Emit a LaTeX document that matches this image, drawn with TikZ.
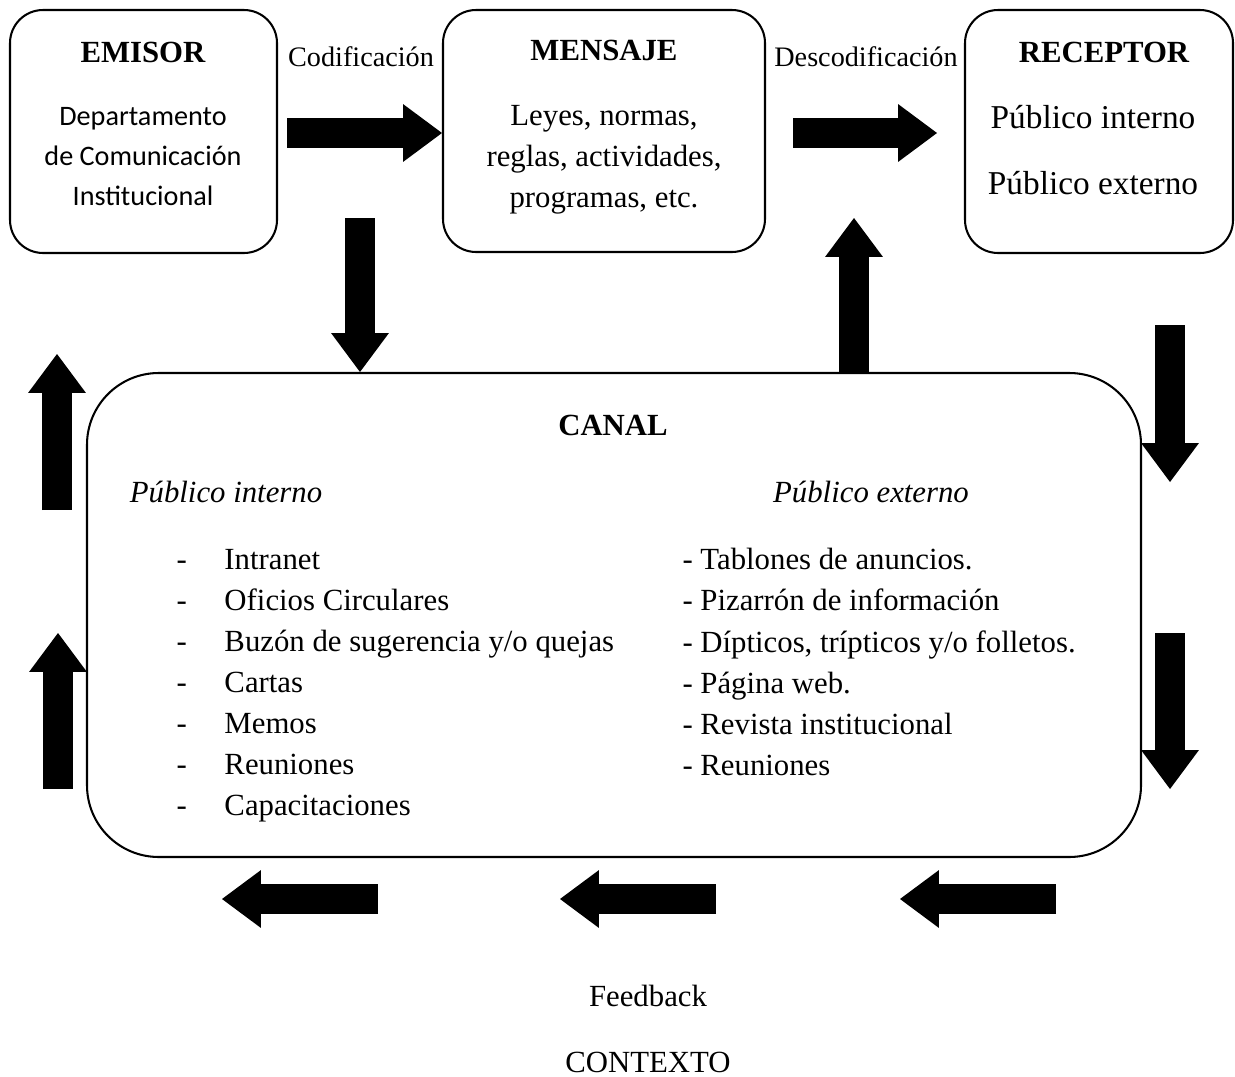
\documentclass[tikz,border=0pt]{standalone}
\usepackage{fontspec}
\setmainfont{Liberation Serif}
\newfontfamily\calibri{Carlito}
\usetikzlibrary{arrows.meta,positioning}
\newlength\pxu
\setlength\pxu{0.39pt}

\begin{document}
\begin{tikzpicture}[x=\pxu,y=-\pxu,font=\fontsize{12}{16}\selectfont,
 box/.style={draw,line width=0.8pt,rounded corners=12.9pt,inner sep=0pt},
 bigbox/.style={draw,line width=0.8pt,rounded corners=28pt,inner sep=0pt},
 txt/.style={inner sep=0pt},
 ttl/.style={inner sep=0pt,font=\fontsize{12}{16}\selectfont\bfseries},
 lbl/.style={inner sep=0pt,font=\fontsize{11}{14}\selectfont},
 lst/.style={inner sep=0pt,align=left,anchor=west},
 blk/.style={line width=11.7pt,-{Triangle[width=22.6pt,length=15.2pt,line width=0pt]}}]
\useasboundingbox (0,0) rectangle (1235,1077);

\node[box,minimum width=267\pxu,minimum height=243\pxu] (emisor) at (143.5,131.5) {};
\node[box,minimum width=322\pxu,minimum height=242\pxu] (mensaje) at (604,131) {};
\node[box,minimum width=268\pxu,minimum height=243\pxu] (receptor) at (1099,131.5) {};
\node[bigbox,minimum width=1054\pxu,minimum height=484\pxu] (canal) at (614,615) {};

\node[ttl] (emisorT) at (143,52) {EMISOR};
\node[txt,align=center,font=\calibri\fontsize{11}{15.6}\selectfont] (emisorB) at (143,157)
 {Departamento\\de Comunicación\\Institucional};
\node[ttl] (mensajeT) at (604,50) {MENSAJE};
\node[txt,align=center] (mensajeB) at (604,160) {Leyes, normas,\\reglas, actividades,\\programas, etc.};
\node[ttl] (receptorT) at (1104,52) {RECEPTOR};
\node[txt,font=\fontsize{13}{16}\selectfont] (recInt) at (1093,117) {Público interno};
\node[txt,font=\fontsize{13}{16}\selectfont] (recExt) at (1093,183) {Público externo};
\node[lbl] (cod) at (361,57) {Codificación};
\node[lbl] (descod) at (866,57) {Descodificación};

\node[ttl] (canalT) at (613,425) {CANAL};
\node[txt,font=\fontsize{12}{16}\selectfont\itshape] (pubInt) at (226,492) {Público interno};
\node[txt,font=\fontsize{12}{16}\selectfont\itshape] (pubExt) at (871,492) {Público externo};
\node[lst] (listInt) at (176,686) {\makebox[48\pxu][l]{-}Intranet\\
 \makebox[48\pxu][l]{-}Oficios Circulares\\
 \makebox[48\pxu][l]{-}Buzón de sugerencia y/o quejas\\
 \makebox[48\pxu][l]{-}Cartas\\
 \makebox[48\pxu][l]{-}Memos\\
 \makebox[48\pxu][l]{-}Reuniones\\
 \makebox[48\pxu][l]{-}Capacitaciones};
\node[lst] (listExt) at (682,662) {- Tablones de anuncios.\\- Pizarrón de información\\
 - Dípticos, trípticos y/o folletos.\\- Página web.\\- Revista institucional\\- Reuniones};

\node[txt] (feedback) at (648,996) {Feedback};
\node[txt] (contexto) at (648,1062) {CONTEXTO};

\coordinate (a1) at (287,133);
\coordinate (a2s) at (793,133);
\coordinate (a2e) at (937,133);
\coordinate (a3) at (360,218);
\coordinate (a4) at (854,218);
\draw[blk] (a1) -- (a1 -| mensaje.west);
\draw[blk] (a2s) -- (a2e);
\draw[blk] (a3) -- (a3 |- canal.north);
\draw[blk] (a4 |- canal.north) -- (a4);

\coordinate (r1s) at (1170,325);
\coordinate (r1e) at (1170,482);
\coordinate (r2s) at (1170,633);
\coordinate (r2e) at (1170,789);
\draw[blk] (r1s) -- (r1e);
\draw[blk] (r2s) -- (r2e);

\coordinate (b1s) at (1056,899);
\coordinate (b1e) at (900,899);
\coordinate (b2s) at (716,899);
\coordinate (b2e) at (560,899);
\coordinate (b3s) at (378,899);
\coordinate (b3e) at (222,899);
\draw[blk] (b1s) -- (b1e);
\draw[blk] (b2s) -- (b2e);
\draw[blk] (b3s) -- (b3e);

\coordinate (l1s) at (58,789);
\coordinate (l1e) at (58,633);
\coordinate (l2s) at (57,510);
\coordinate (l2e) at (57,354);
\draw[blk] (l1s) -- (l1e);
\draw[blk] (l2s) -- (l2e);
\end{tikzpicture}
\end{document}
